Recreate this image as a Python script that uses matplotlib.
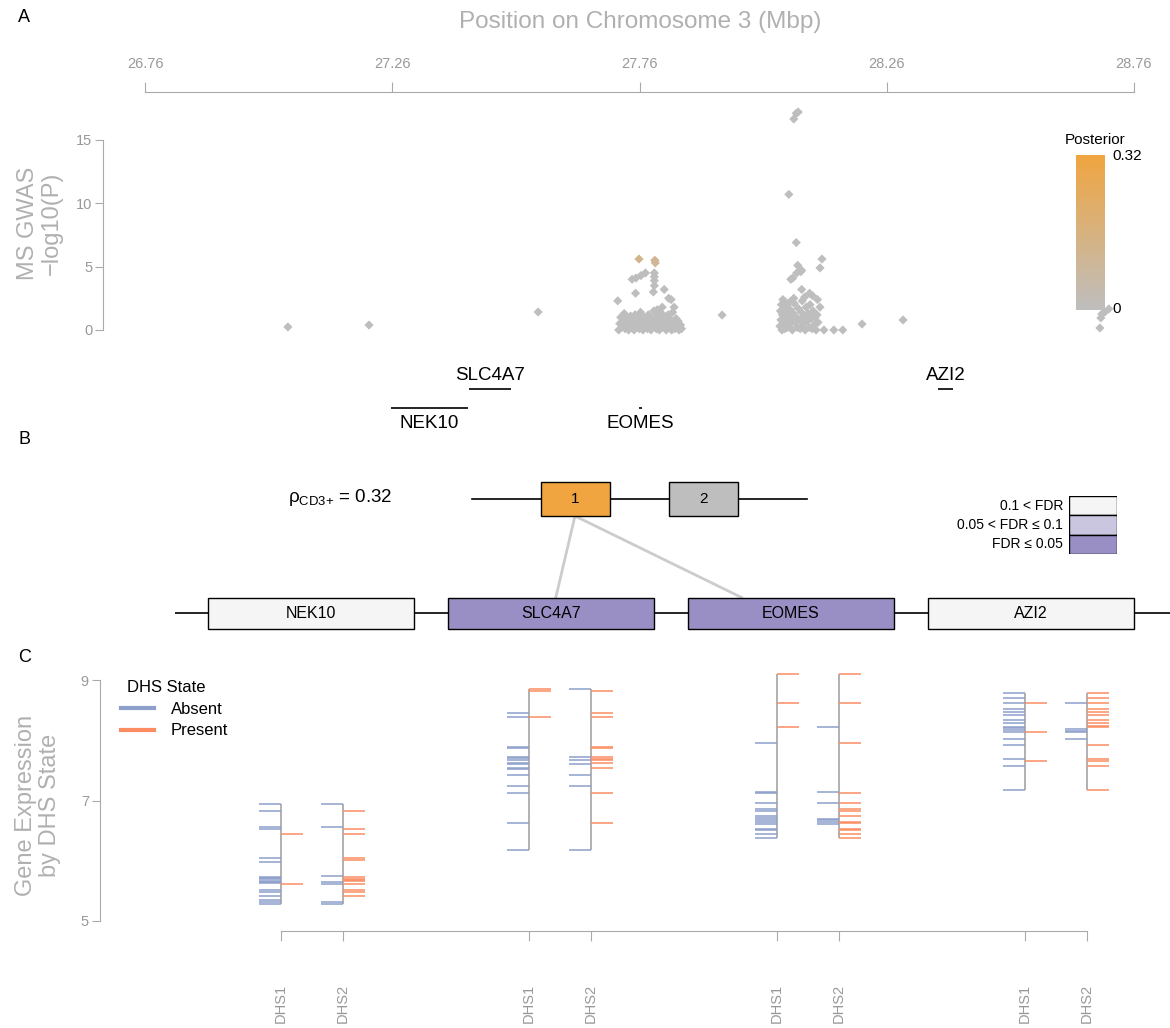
import numpy as np
import matplotlib
matplotlib.use("Agg")
import matplotlib.pyplot as plt
from matplotlib.colors import LinearSegmentedColormap, Normalize
from matplotlib.cm import ScalarMappable
from matplotlib.lines import Line2D

plt.rcParams['font.family'] = ['Liberation Sans', 'DejaVu Sans']
plt.rcParams['mathtext.default'] = 'regular'

# ---- panel A data: SNP position (Mbp), -log10(P), posterior ----
snp_pos = [27.049, 27.213, 27.555, 27.927, 28.210, 28.293,
           28.709, 28.701, 28.695, 28.693, 28.691,
           # EOMES cluster
           27.759, 27.791, 27.792,
           27.753, 27.745, 27.763, 27.772, 27.790, 27.790, 27.790, 27.790, 27.788, 27.752,
           27.716, 27.810, 27.819, 27.824, 27.830, 27.806, 27.796,
           27.718, 27.720, 27.722, 27.724, 27.727, 27.729, 27.731, 27.733, 27.735, 27.738,
           27.740, 27.742, 27.744, 27.747, 27.749, 27.751, 27.753, 27.756, 27.758, 27.760,
           27.762, 27.765, 27.767, 27.769, 27.771, 27.774, 27.776, 27.778, 27.780, 27.783,
           27.785, 27.787, 27.789, 27.792, 27.794, 27.796, 27.798, 27.800, 27.803, 27.805,
           27.807, 27.809, 27.812, 27.814, 27.816, 27.818, 27.821, 27.823, 27.825, 27.827,
           27.830, 27.832, 27.834, 27.836, 27.838, 27.840, 27.843, 27.845,
           # second cluster
           28.077, 28.081, 28.072, 28.062, 28.077, 28.129, 28.125, 28.080, 28.088, 28.078,
           28.070, 28.086, 28.066,
           28.088, 28.104, 28.110, 28.120, 28.125, 28.094, 28.072, 28.064, 28.058,
           28.044, 28.045, 28.046, 28.047, 28.048, 28.049, 28.050, 28.051, 28.052, 28.053,
           28.054, 28.055, 28.056, 28.057, 28.058, 28.059, 28.061, 28.063, 28.065, 28.067,
           28.069, 28.071, 28.073, 28.075, 28.077, 28.079, 28.081, 28.083, 28.085, 28.087,
           28.089, 28.091, 28.093, 28.095, 28.097, 28.099, 28.101, 28.103, 28.105, 28.107,
           28.109, 28.111, 28.113, 28.115, 28.117, 28.119, 28.121,
           28.133, 28.153, 28.171]
snp_logp = [0.24, 0.39, 1.42, 1.18, 0.47, 0.79,
            1.66, 1.42, 1.26, 0.95, 0.16,
            5.6, 5.5, 5.3,
            4.1, 4.0, 4.3, 4.5, 4.5, 4.2, 3.9, 3.5, 3.0, 2.9,
            2.3, 3.2, 2.5, 2.4, 1.8, 1.8, 1.6,
            0.0, 0.5, 1.0, 0.2, 0.7, 1.3, 0.1, 0.4, 0.9, 0.0,
            0.6, 1.1, 0.3, 0.8, 0.0, 1.2, 0.5, 0.2, 0.9, 0.1,
            1.4, 0.6, 0.0, 1.0, 0.3, 0.8, 0.1, 1.2, 0.5, 0.0,
            0.9, 0.3, 1.5, 0.7, 0.1, 1.1, 0.4, 0.0, 0.9, 1.3,
            0.2, 0.6, 1.0, 0.0, 0.5, 1.2, 0.3, 0.8, 0.0, 1.4,
            0.5, 0.1, 0.9, 0.3, 0.7, 0.0, 0.4, 0.1,
            17.1, 17.2, 16.65, 10.7, 6.9, 5.6, 4.9, 5.1, 4.7, 4.5,
            4.1, 4.6, 4.0,
            3.2, 2.9, 2.7, 2.4, 1.8, 2.6, 2.5, 2.2, 2.0,
            0.3, 1.5, 0.8, 2.0, 0.0, 1.2, 2.4, 0.5, 1.7, 0.9,
            0.1, 2.2, 1.4, 0.6, 1.9, 0.2, 1.1, 0.4, 1.6, 0.9,
            0.0, 1.3, 2.1, 0.6, 1.0, 0.2, 1.7, 0.8, 0.1, 1.4,
            2.3, 0.5, 1.1, 0.0, 1.8, 0.7, 1.3, 0.2, 2.0, 0.9,
            0.1, 1.5, 0.4, 1.0, 0.0, 1.2, 0.6,
            0.0, 0.0, 0.0]
snp_post = [0.0] * len(snp_pos)
snp_post[11] = 0.13
snp_post[12] = 0.12
snp_post[13] = 0.10

pos_ticks = [26.76, 27.26, 27.76, 28.26, 28.76]

# genes (Mbp) and track row
gene_names = ['NEK10', 'SLC4A7', 'EOMES', 'AZI2']
gene_start = [27.257, 27.415, 27.759, 28.364]
gene_end = [27.413, 27.500, 27.765, 28.394]
gene_row = [1, 0, 1, 0]

# ---- panel B data ----
gene_fdr = ['0.1 < FDR', 'FDR \u2264 0.05', 'FDR \u2264 0.05', '0.1 < FDR']
fdr_levels = ['0.1 < FDR', '0.05 < FDR \u2264 0.1', 'FDR \u2264 0.05']
fdr_colors = ['#f5f5f5', '#cbc6df', '#9a8fc4']
dhs_names = ['1', '2']
dhs_posterior = [0.32, 0.0]
dhs_links = [[1, 2], []]   # DHS 1 linked to SLC4A7, EOMES
rho = 0.32

# ---- panel C data: expression per DHS column (gene x DHS) ----
dhs_labels = ['DHS1', 'DHS2'] * 4
absent_expr = [
    [6.937, 6.826, 6.566, 6.522, 6.051, 5.985, 5.736, 5.714, 5.692, 5.669, 5.647, 5.625,
     5.515, 5.476, 5.415, 5.349, 5.310, 5.277],
    [6.937, 6.566, 5.742, 5.647, 5.619, 5.320, 5.290],
    [8.447, 8.392, 7.883, 7.866, 7.728, 7.700, 7.672, 7.628, 7.606, 7.534, 7.517, 7.423,
     7.246, 7.119, 6.632, 6.178],
    [8.851, 7.728, 7.672, 7.606, 7.423, 7.246, 6.178],
    [7.949, 7.147, 7.119, 6.954, 6.854, 6.820, 6.743, 6.704, 6.671, 6.638, 6.605, 6.532,
     6.505, 6.439, 6.372],
    [8.226, 7.147, 6.954, 6.695, 6.671, 6.638, 6.605],
    [8.779, 8.707, 8.618, 8.513, 8.474, 8.419, 8.336, 8.281, 8.226, 8.198, 8.170, 8.143,
     8.021, 7.927, 7.689, 7.568, 7.174],
    [8.618, 8.180, 8.154, 8.130, 8.021],
]
present_expr = [
    [6.439, 5.619],
    [6.826, 6.522, 6.439, 6.051, 6.010, 5.725, 5.703, 5.681, 5.659, 5.619, 5.515, 5.476,
     5.415],
    [8.851, 8.818, 8.392],
    [8.818, 8.447, 8.392, 7.883, 7.866, 7.717, 7.695, 7.672, 7.628, 7.534, 7.119, 6.632],
    [9.105, 8.624, 8.226],
    [9.105, 8.624, 7.949, 7.119, 6.954, 6.854, 6.820, 6.743, 6.638, 6.622, 6.532, 6.505,
     6.439, 6.372],
    [8.618, 8.143, 7.661],
    [8.779, 8.707, 8.618, 8.513, 8.474, 8.419, 8.336, 8.281, 8.237, 8.215, 7.927, 7.689,
     7.661, 7.568, 7.174],
]
dhs_xpos = [0, 1, 4, 5, 8, 9, 12, 13]

W, H = 1170, 1028
fig = plt.figure(figsize=(W / 100, H / 100), dpi=100)
GRAY = '#aaaaaa'
BLUE = '#8da0cb'
ORANGE = '#fc8d62'


def px_axes(l, t, r, b):
    return fig.add_axes([l / W, 1 - b / H, (r - l) / W, (b - t) / H])


# ================= Panel A =================
cmap = LinearSegmentedColormap.from_list('post', ['#bebebe', '#f0a540'])
norm = Normalize(0, 0.32)

axA = px_axes(145, 92, 1134, 340)
axA.set_xlim(26.76, 28.76)
axA.set_ylim(-0.79, 18.78)
axA.scatter(snp_pos, snp_logp, c=snp_post, cmap=cmap, norm=norm, marker='D',
            s=22, linewidths=0)
for s in ['right', 'bottom']:
    axA.spines[s].set_visible(False)
axA.spines['left'].set_position(('outward', 30))
axA.spines['left'].set_bounds(0, 15)
for s in ['left', 'top']:
    axA.spines[s].set_color(GRAY)
axA.xaxis.tick_top()
axA.set_xticks(pos_ticks)
axA.set_xticklabels(['%.2f' % p for p in pos_ticks])
axA.set_yticks([0, 5, 10, 15])
axA.tick_params(colors=GRAY, labelcolor='#999999', labelsize=10.5, length=7)
axA.tick_params(axis='x', pad=8)
axA.tick_params(axis='y', length=6, pad=2)
fig.text(640 / W, 1 - 22 / H, 'Position on Chromosome 3 (Mbp)', fontsize=17.5,
         color='#b0b0b0', ha='center', va='center')
fig.text(40 / W, 1 - 223 / H, 'MS GWAS\n\u2212log10(P)', fontsize=17, color='#b0b0b0',
         rotation=90, ha='center', va='center', linespacing=1.1)

# colour bar
cax = px_axes(1076, 155, 1105, 310)
cb = fig.colorbar(ScalarMappable(norm=norm, cmap=cmap), cax=cax)
cb.outline.set_visible(False)
cb.set_ticks([])
fig.text(1095 / W, 1 - 140 / H, 'Posterior', fontsize=11, ha='center', va='center')
fig.text(1112 / W, 1 - 156 / H, '0.32', fontsize=11, ha='left', va='center')
fig.text(1112 / W, 1 - 309 / H, '0', fontsize=11, ha='left', va='center')

# gene track
axG = px_axes(145, 355, 1134, 440)
axG.set_xlim(26.76, 28.76)
axG.set_ylim(440, 355)
axG.axis('off')
for name, g0, g1, row in zip(gene_names, gene_start, gene_end, gene_row):
    ly = 389 + 19 * row
    ty = 376 if row == 0 else 424
    axG.plot([g0, g1], [ly, ly], color='black', lw=1.2, solid_capstyle='butt')
    axG.text((g0 + g1) / 2, ty, name, fontsize=13.5, ha='center', va='center')

# ================= Panel B =================
axB = px_axes(175, 470, 1170, 640)
axB.set_xlim((175 - 311) / 240, (1170 - 311) / 240)
axB.set_ylim(-27 / 114, 143 / 114)
axB.axis('off')
gene_slots = np.arange(len(gene_names))
gcol = [fdr_colors[fdr_levels.index(f)] for f in gene_fdr]
axB.axhline(0, color='black', lw=1.2, zorder=0)
axB.bar(gene_slots, 31 / 114, bottom=-15.5 / 114, width=206 / 240, color=gcol,
        edgecolor='black', lw=1, zorder=2)
for i, name in enumerate(gene_names):
    axB.text(i, 0, name, fontsize=11.5, ha='center', va='center', zorder=3)

dhs_slots = [1.1, 1.635]
dw = 69 / 240
dh = 34 / 114
dcol = [cmap(norm(p)) for p in dhs_posterior]
axB.plot([dhs_slots[0] - 1.5 * dw, dhs_slots[-1] + 1.5 * dw], [1, 1], color='black',
         lw=1.2, zorder=0)
axB.bar(dhs_slots, dh, bottom=1 - dh / 2, width=dw, color=dcol, edgecolor='black',
        lw=1, zorder=2)
for x, name in zip(dhs_slots, dhs_names):
    axB.text(x, 1, name, fontsize=11, ha='center', va='center', zorder=3)
link_offset = {1: 0.02, 2: -0.206}
for x, links in zip(dhs_slots, dhs_links):
    for g in links:
        axB.plot([x, g + link_offset[g]], [1 - dh / 2, 15.5 / 114], color='#cccccc',
                 lw=2, zorder=1)
axB.text(0.121, 1.01, r'$\rho_{CD3{+}}$ = %.2f' % rho, fontsize=13.5,
         ha='center', va='center')

# FDR legend
axL = px_axes(1069, 496, 1117, 554)
axL.barh([2.5, 1.5, 0.5], 1, height=1, left=0, color=fdr_colors, edgecolor='black',
         lw=1)
axL.set_xlim(0, 1)
axL.set_ylim(0, 3)
axL.axis('off')
for y, lab in zip([2.5, 1.5, 0.5], fdr_levels):
    axL.text(-0.12, y, lab, fontsize=10, ha='right', va='center')

# ================= Panel C =================
axC = px_axes(100, 670, 1170, 931)
axC.set_xlim((100 - 281) / 62, (1170 - 281) / 62)
axC.set_ylim(4.834, 9.166)
hw = 22 / 62
for x, ab, pr in zip(dhs_xpos, absent_expr, present_expr):
    allv = ab + pr
    axC.vlines(x, min(allv), max(allv), color=GRAY, lw=1.3, zorder=1)
    axC.hlines(ab, x - hw, x, color=BLUE, lw=1.3, alpha=0.85, zorder=2)
    axC.hlines(pr, x, x + hw, color=ORANGE, lw=1.3, alpha=0.85, zorder=2)
for s in ['right', 'top']:
    axC.spines[s].set_visible(False)
axC.spines['left'].set_bounds(5, 9)
axC.spines['bottom'].set_bounds(0, 13)
for s in ['left', 'bottom']:
    axC.spines[s].set_color(GRAY)
axC.set_yticks([5, 7, 9])
axC.set_xticks(dhs_xpos)
axC.set_xticklabels(dhs_labels, rotation=90)
axC.tick_params(colors=GRAY, labelcolor='#999999', labelsize=10.5)
axC.tick_params(axis='y', length=6, pad=2)
axC.tick_params(axis='x', length=7, pad=31)
fig.text(38 / W, 1 - 805 / H, 'Gene Expression\nby DHS State', fontsize=17,
         color='#b0b0b0', rotation=90, ha='center', va='center', linespacing=1.1)

handles = [Line2D([], [], color=BLUE, lw=3), Line2D([], [], color=ORANGE, lw=3)]
leg = fig.legend(handles, ['Absent', 'Present'], title='DHS State', loc='upper left',
                 bbox_to_anchor=(121 / W, 1 - 680 / H), frameon=False, fontsize=12,
                 title_fontsize=12, handlelength=2.0, handletextpad=1.0,
                 labelspacing=0.4, borderpad=0, borderaxespad=0, alignment='left')
leg.get_title().set_position((6, 0))

# panel letters
fig.text(18 / W, 1 - 18 / H, 'A', fontsize=13, ha='left', va='center')
fig.text(18 / W, 1 - 440 / H, 'B', fontsize=13, ha='left', va='center')
fig.text(18 / W, 1 - 657 / H, 'C', fontsize=13, ha='left', va='center')

fig.savefig('out.png', dpi=100)
